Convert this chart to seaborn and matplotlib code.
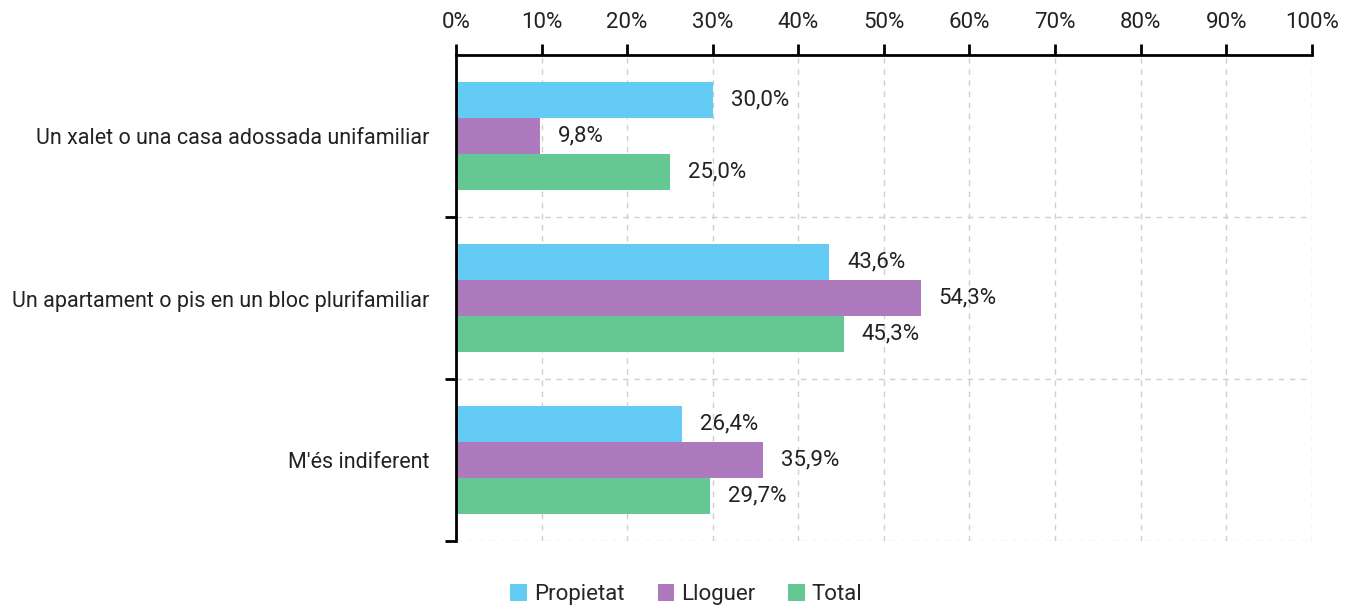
import matplotlib.pyplot as plt
import pandas as pd
import seaborn as sns
from matplotlib.ticker import FuncFormatter, FixedLocator

categories = ['Un xalet o una casa adossada unifamiliar',
              'Un apartament o pis en un bloc plurifamiliar',
              "M'és indiferent"]
series = ['Propietat', 'Lloguer', 'Total']
propietat = [30.0, 43.6, 26.4]
lloguer = [9.8, 54.3, 35.9]
total = [25.0, 45.3, 29.7]
colors = ['#63CBF4', '#AD7BBD', '#65C893']

rows = []
for s, vals in zip(series, [propietat, lloguer, total]):
    for c, v in zip(categories, vals):
        rows.append({'cat': c, 'serie': s, 'val': v})
df = pd.DataFrame(rows)

sns.set_style('white')
plt.rcParams['font.family'] = ['Roboto', 'DejaVu Sans']
txt = '#222222'

fig = plt.figure(figsize=(13.54, 6.07), dpi=100)
ax = fig.add_axes([0.3368, 0.1087, 0.632, 0.8007])

sns.barplot(data=df, y='cat', x='val', hue='serie', order=categories, hue_order=series,
            palette=colors, orient='h', width=0.667, saturation=1, linewidth=0,
            ax=ax, legend=True)

for cont in ax.containers:
    labels = [f'{v:.1f}%'.replace('.', ',') for v in cont.datavalues]
    ax.bar_label(cont, labels=labels, padding=13, fontsize=16, color=txt)

ax.set_xlim(0, 100)
ax.set_ylim(2.5, -0.5)
ax.xaxis.tick_top()
ax.set_xticks(range(0, 101, 10))
ax.xaxis.set_major_formatter(FuncFormatter(lambda x, pos: f'{int(x)}%'))
ax.tick_params(axis='x', direction='out', length=8, width=2, color='black',
               labelsize=16, labelcolor=txt, pad=8)
ax.yaxis.set_minor_locator(FixedLocator([0.5, 1.5, 2.5]))
ax.tick_params(axis='y', which='major', length=0, labelsize=15.5, labelcolor=txt, pad=19)
ax.tick_params(axis='y', which='minor', left=True, direction='out', length=8, width=2, color='black')
ax.set_xlabel('')
ax.set_ylabel('')

ax.grid(axis='x', which='major', linestyle=(0, (4, 4)), color='#cfcfcf', linewidth=1)
ax.grid(axis='y', which='minor', linestyle=(0, (4, 4)), color='#cfcfcf', linewidth=1)
ax.grid(axis='y', which='major', visible=False)
ax.set_axisbelow(True)

for side in ['right', 'bottom']:
    ax.spines[side].set_visible(False)
for side in ['top', 'left']:
    ax.spines[side].set_color('black')
    ax.spines[side].set_linewidth(2)

handles, labels = ax.get_legend_handles_labels()
ax.get_legend().remove()
fig.legend(handles, labels, loc='lower center', bbox_to_anchor=(0.507, -0.03), ncol=3,
           frameon=False, fontsize=16, handlelength=0.75, handleheight=0.75,
           handletextpad=0.3, columnspacing=1.5)

fig.savefig('out.png', dpi=100)
